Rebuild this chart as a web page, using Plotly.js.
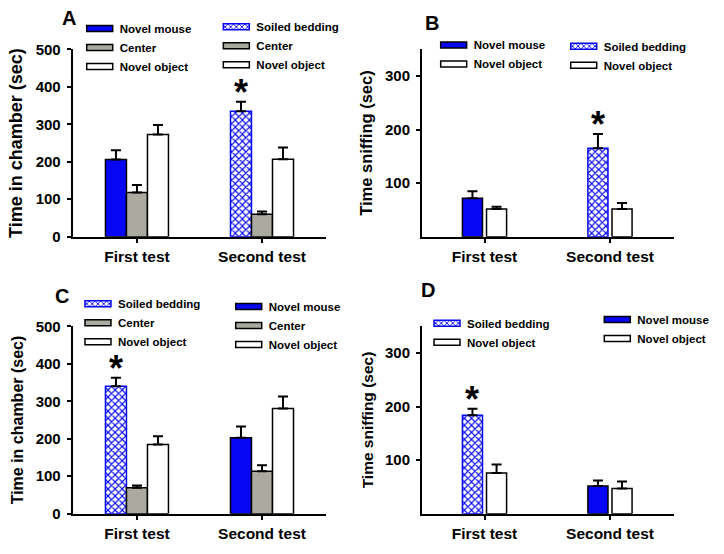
<!DOCTYPE html>
<html><head><meta charset="utf-8">
<script src="https://cdn.plot.ly/plotly-3.0.1.min.js"></script>
<style>html,body{margin:0;padding:0;background:#fff}</style>
</head><body>
<div id="chart" style="width:724px;height:554px"></div>
<script>
const groups = ['First test', 'Second test'];

// Panel A: time in chamber (sec)
const aFirstLabels = ['Novel mouse', 'Center', 'Novel object'];
const aFirstValues = [206, 118, 273];
const aFirstErrors = [25, 20, 25];
const aSecondLabels = ['Soiled bedding', 'Center', 'Novel object'];
const aSecondValues = [335, 60, 207];
const aSecondErrors = [25, 7, 31];

// Panel B: time sniffing (sec)
const bFirstLabels = ['Novel mouse', 'Novel object'];
const bFirstValues = [72, 52];
const bFirstErrors = [13, 4];
const bSecondLabels = ['Soiled bedding', 'Novel object'];
const bSecondValues = [165, 52];
const bSecondErrors = [27, 11];

// Panel C: time in chamber (sec)
const cFirstLabels = ['Soiled bedding', 'Center', 'Novel object'];
const cFirstValues = [340, 69, 185];
const cFirstErrors = [23, 6, 22];
const cSecondLabels = ['Novel mouse', 'Center', 'Novel object'];
const cSecondValues = [203, 113, 281];
const cSecondErrors = [30, 16, 32];

// Panel D: time sniffing (sec)
const dFirstLabels = ['Soiled bedding', 'Novel object'];
const dFirstValues = [184, 76];
const dFirstErrors = [12, 16];
const dSecondLabels = ['Novel mouse', 'Novel object'];
const dSecondValues = [52, 47];
const dSecondErrors = [10, 13];

const panelLetters = ['A', 'B', 'C', 'D'];
const yTitles = ['Time in chamber (sec)', 'Time sniffing (sec)', 'Time in chamber (sec)', 'Time sniffing (sec)'];
const chamberTicks = [0, 100, 200, 300, 400, 500];
const sniffTicks = [100, 200, 300];

// ---------- styling ----------
const FONT = 'Liberation Sans, Arial, sans-serif';
const BLUE = '#0606f4';
const GRAY = '#abaaa0';
const styles = {
  'Novel mouse': {fill: BLUE, line: '#000'},
  'Center': {fill: GRAY, line: '#000'},
  'Novel object': {fill: '#fff', line: '#000'},
  'Soiled bedding': {fill: '#fff', line: BLUE,
    pattern: {shape: 'x', fgcolor: BLUE, bgcolor: '#fff', size: 5, solidity: 0.4}}
};

const traces = [];
const annotations = [];

function addGroup(labels, values, errors, groupIdx, ax, legendId, w, gap, starIndex) {
  const n = labels.length;
  const total = n * w + (n - 1) * gap;
  const start = -total / 2;
  for (let i = 0; i < n; i++) {
    const st = styles[labels[i]];
    const marker = {color: st.fill, line: {color: st.line, width: 1.5}};
    if (st.pattern) marker.pattern = st.pattern;
    traces.push({
      type: 'bar', name: labels[i],
      x: [groups[groupIdx]], y: [values[i]],
      offset: start + i * (w + gap), width: w,
      xaxis: 'x' + ax, yaxis: 'y' + ax, legend: legendId,
      marker: marker,
      error_y: {type: 'data', symmetric: false, array: [errors[i]], arrayminus: [0],
                color: '#000', thickness: 2, width: 5},
      hoverinfo: 'skip', showlegend: true
    });
    if (starIndex === i) {
      annotations.push({
        xref: 'x' + ax, yref: 'y' + ax,
        x: groups[groupIdx], y: values[i] + errors[i],
        xshift: (start + i * (w + gap) + w / 2) * (ax === '' || ax === '3' ? 124.5 : 125.5),
        text: '*', showarrow: false, yanchor: 'middle', yshift: 9,
        font: {family: FONT, size: 36, weight: 'bold', color: '#000'}
      });
    }
  }
}

const W3 = 0.168, W2 = 0.16, G2 = 0.032;
addGroup(aFirstLabels, aFirstValues, aFirstErrors, 0, '', 'legend', W3, 0, -1);
addGroup(aSecondLabels, aSecondValues, aSecondErrors, 1, '', 'legend2', W3, 0, 0);
addGroup(bFirstLabels, bFirstValues, bFirstErrors, 0, '2', 'legend3', W2, G2, -1);
addGroup(bSecondLabels, bSecondValues, bSecondErrors, 1, '2', 'legend4', W2, G2, 0);
addGroup(cFirstLabels, cFirstValues, cFirstErrors, 0, '3', 'legend5', W3, 0, 0);
addGroup(cSecondLabels, cSecondValues, cSecondErrors, 1, '3', 'legend6', W3, 0, -1);
addGroup(dFirstLabels, dFirstValues, dFirstErrors, 0, '4', 'legend7', W2, G2, 0);
addGroup(dSecondLabels, dSecondValues, dSecondErrors, 1, '4', 'legend8', W2, G2, -1);

function xAxis(domain, range, anchor) {
  return {
    domain: domain, range: range, anchor: anchor, type: 'category',
    categoryorder: 'array', categoryarray: groups,
    showline: true, linecolor: '#000', linewidth: 2,
    ticks: 'outside', ticklen: 4, tickwidth: 2, tickcolor: '#000',
    showgrid: false, zeroline: false, fixedrange: true, ticklabelstandoff: 1,
    tickfont: {family: FONT, size: 15.5, weight: 'bold', color: '#000'}
  };
}
function yAxis(domain, range, tickvals, title, tsize, anchor) {
  return {
    domain: domain, range: range, anchor: anchor,
    tickvals: tickvals, ticktext: tickvals.map(String),
    showline: true, linecolor: '#000', linewidth: 2,
    ticks: 'outside', ticklen: 4, tickwidth: 2, tickcolor: '#000',
    showgrid: false, zeroline: false, fixedrange: true, ticklabelstandoff: 3,
    tickfont: {family: FONT, size: 15, weight: 'bold', color: '#000'},
    title: {text: title, standoff: 8, font: {family: FONT, size: tsize, weight: 'bold', color: '#000'}}
  };
}

const xdL = [0.1004, 0.4503], xdR = [0.5829, 0.9305];
const ydT = [0.5727, 0.911], ydB = [0.0727, 0.411];
const xrL = [-0.514, 1.512], xrR = [-0.498, 1.5076];

function legendAt(x, y) {
  return {x: x, y: y, xanchor: 'left', yanchor: 'top', bgcolor: 'rgba(0,0,0,0)',
          borderwidth: 0, tracegroupgap: 0, itemclick: false, itemdoubleclick: false,
          font: {family: FONT, size: 11.5, weight: 'bold', color: '#000'}};
}

const letterPos = [[69, 18], [431.5, 23], [61.5, 296], [428, 290]];
letterPos.forEach((p, i) => annotations.push({
  xref: 'paper', yref: 'paper', x: p[0] / 724, y: 1 - p[1] / 554,
  xanchor: 'center', yanchor: 'middle', showarrow: false, text: panelLetters[i],
  font: {family: FONT, size: 20, weight: 'bold', color: '#000'}
}));

const layout = {
  width: 724, height: 554, margin: {l: 0, r: 0, t: 0, b: 0},
  paper_bgcolor: '#fff', plot_bgcolor: 'rgba(0,0,0,0)',
  barmode: 'overlay', showlegend: true,
  font: {family: FONT, color: '#000'},
  xaxis: xAxis(xdL, xrL, 'y'),
  yaxis: yAxis(ydT, [0, 500], chamberTicks, yTitles[0], 18, 'x'),
  xaxis2: xAxis(xdR, xrR, 'y2'),
  yaxis2: yAxis(ydT, [0, 350], sniffTicks, yTitles[1], 16.5, 'x2'),
  xaxis3: xAxis(xdL, xrL, 'y3'),
  yaxis3: yAxis(ydB, [0, 500], chamberTicks, yTitles[2], 16, 'x3'),
  xaxis4: xAxis(xdR, xrR, 'y4'),
  yaxis4: yAxis(ydB, [0, 350], sniffTicks, yTitles[3], 15.5, 'x4'),
  legend: legendAt(0.1101, 0.9747),
  legend2: legendAt(0.2988, 0.9778),
  legend3: legendAt(0.599, 0.9451),
  legend4: legendAt(0.7786, 0.9428),
  legend5: legendAt(0.1077, 0.4778),
  legend6: legendAt(0.3159, 0.4729),
  legend7: legendAt(0.5898, 0.4428),
  legend8: legendAt(0.825, 0.4494),
  annotations: annotations
};

// widen legend swatches into flat bars like the original figure
function widenSwatches() {
  document.querySelectorAll('#chart g.legendpoints path').forEach(function (p) {
    const d = p.getAttribute('d') || '';
    if (/^M6,6H-6V-6H6Z$/.test(d.replace(/\s/g, ''))) {
      p.setAttribute('d', 'M13,3H-13V-3H13Z');
    }
  });
}

const gdEl = document.getElementById('chart');
Plotly.newPlot(gdEl, traces, layout, {displayModeBar: false, staticPlot: true}).then(function (gd) {
  gd.on('plotly_afterplot', widenSwatches);
  widenSwatches();
  setTimeout(widenSwatches, 0);
  setTimeout(widenSwatches, 50);
  setTimeout(widenSwatches, 200);
});
</script>
</body></html>
